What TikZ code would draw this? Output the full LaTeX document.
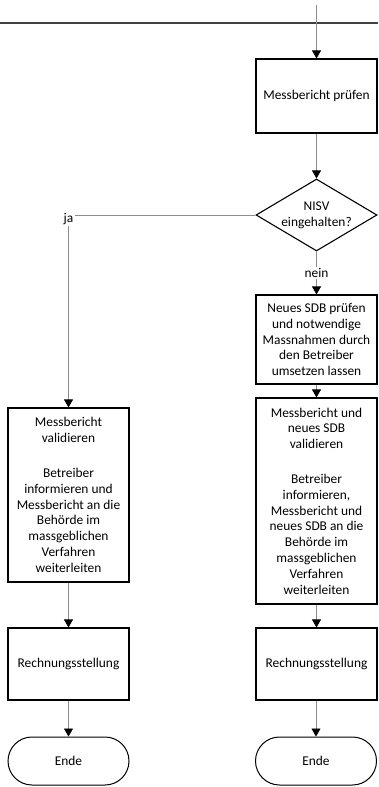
\documentclass[tikz,border=0pt]{standalone}
\usepackage{fontspec}
\setmainfont{Carlito}
\usetikzlibrary{arrows.meta,shapes.geometric}
\begin{document}
\begin{tikzpicture}[x=1pt,y=-1pt,
  font=\fontsize{13.4}{15.8}\selectfont,
  box/.style={draw=black, line width=1.1pt, minimum width=121pt, inner sep=0pt, align=center, fill=white},
  decision/.style={shape=diamond, draw=black, line width=1.1pt, aspect=1.68, inner sep=0pt,
                   minimum width=121pt, minimum height=72pt, align=center, fill=white},
  term/.style={draw=black, line width=1pt, rounded corners=24pt, minimum width=121pt,
               minimum height=48pt, inner sep=0pt, fill=white},
  conn/.style={draw=black!45, line width=0.8pt},
  flow/.style={conn, -{Triangle[width=9pt,length=8pt,color=black]}},
  lbl/.style={fill=white, inner sep=1pt},
  sep/.style={draw=black!75, line width=1.4pt},
]
\useasboundingbox (0,0) rectangle (378,787);

% separator at the top
\coordinate (sepL) at (0,23);
\coordinate (sepR) at (378,23);
\draw[sep] (sepL) -- (sepR);

% right column
\coordinate (in) at (316.5,5);
\node[box, minimum height=74pt] (pruef) at (316.5,96) {Messbericht prüfen};
\node[decision] (nisv) at (316.5,215) {NISV\\eingehalten?};
\node[box, minimum height=89pt] (sdb) at (316.5,339.5)
  {Neues SDB prüfen\\und notwendige\\Massnahmen durch\\den Betreiber\\umsetzen lassen};
\node[box, minimum height=206pt] (valR) at (316.5,501)
  {Messbericht und\\neues SDB\\validieren\\[19pt]Betreiber\\informieren,\\Messbericht und\\neues SDB an die\\Behörde im\\massgeblichen\\Verfahren\\weiterleiten};
\node[box, minimum height=72pt] (rechR) at (316.5,664) {Rechnungsstellung};
\node[term] (endR) at (316,761) {Ende};

% left column
\node[lbl] (ja) at (68.5,219.5) {ja};
\node[box, minimum height=174pt] (valL) at (68.5,495)
  {Messbericht\\validieren\\[19pt]Betreiber\\informieren und\\Messbericht an die\\Behörde im\\massgeblichen\\Verfahren\\weiterleiten};
\node[box, minimum height=72pt] (rechL) at (68.5,664) {Rechnungsstellung};
\node[term] (endL) at (68.5,761) {Ende};

% connectors
\draw[flow] (in) -- (pruef);
\draw[flow] (pruef) -- (nisv);
\draw[flow] (nisv) -- node[lbl] (nein) {nein} (sdb);
\draw[flow] (sdb) -- (valR);
\draw[flow] (valR) -- (rechR);
\draw[flow] (rechR.south -| endR) -- (endR);
\draw[conn] (nisv.west) -- (nisv.west -| ja.east);
\draw[flow] (ja.south) -- (valL);
\draw[flow] (valL) -- (rechL);
\draw[flow] (rechL) -- (endL);
\end{tikzpicture}
\end{document}
